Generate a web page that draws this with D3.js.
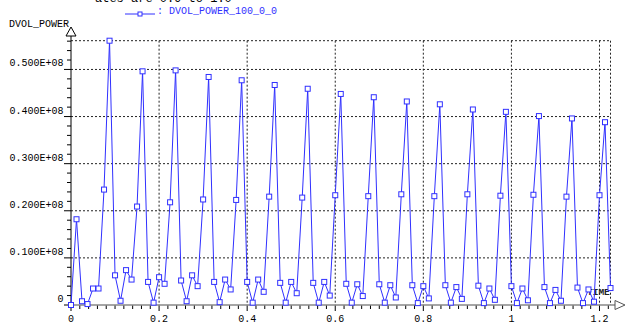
<!DOCTYPE html>
<html>
<head>
<meta charset="utf-8">
<script src="https://cdn.jsdelivr.net/npm/d3@7"></script>
<style>
  body { margin: 0; background: #fff; }
  svg { display: block; font-family: "Liberation Mono", "DejaVu Sans Mono", monospace; }
</style>
</head>
<body>
<svg id="d3-container"></svg>
<script>
const WIDTH = 626
const HEIGHT = 326
const MARGIN = {top: 40.7, right: 15.5, bottom: 21, left: 71}

const SERIES_NAME = "DVOL_POWER_100_0_0"
const Y_LABEL = "DVOL_POWER"
const X_LABEL = "TIME"

// sample times (s)
const TIME = [
  0, 0.0125, 0.025, 0.0375, 0.05, 0.0625, 0.075, 0.0875, 0.1, 0.1125,
  0.125, 0.1375, 0.15, 0.1625, 0.175, 0.1875, 0.2, 0.2125, 0.225, 0.2375,
  0.25, 0.2625, 0.275, 0.2875, 0.3, 0.3125, 0.325, 0.3375, 0.35, 0.3625,
  0.375, 0.3875, 0.4, 0.4125, 0.425, 0.4375, 0.45, 0.4625, 0.475, 0.4875,
  0.5, 0.5125, 0.525, 0.5375, 0.55, 0.5625, 0.575, 0.5875, 0.6, 0.6125,
  0.625, 0.6375, 0.65, 0.6625, 0.675, 0.6875, 0.7, 0.7125, 0.725, 0.7375,
  0.75, 0.7625, 0.775, 0.7875, 0.8, 0.8125, 0.825, 0.8375, 0.85, 0.8625,
  0.875, 0.8875, 0.9, 0.9125, 0.925, 0.9375, 0.95, 0.9625, 0.975, 0.9875,
  1, 1.0125, 1.025, 1.0375, 1.05, 1.0625, 1.075, 1.0875, 1.1, 1.1125,
  1.125, 1.1375, 1.15, 1.1625, 1.175, 1.1875, 1.2, 1.2125, 1.225
]

// DVOL_POWER values, in units of 1e6
const POWER = [
  0, 18.2, 0.8, 0.2, 3.5, 3.5, 24.5,
  56.1, 6.3, 0.9, 7.4, 5.4, 20.9,
  49.6, 4.9, 0.5, 5.9, 4.5, 21.8,
  49.8, 5.2, 0.8, 6.3, 4.0, 22.4,
  48.4, 4.9, 0.6, 5.4, 3.3, 22.3,
  47.7, 4.9, 0.5, 5.4, 2.8, 23.0,
  46.7, 4.7, 0.5, 4.9, 2.5, 22.8,
  45.9, 4.7, 0.5, 4.9, 2.0, 23.3,
  44.8, 4.5, 0.5, 4.4, 1.9, 23.1,
  44.1, 4.4, 0.5, 4.2, 1.6, 23.5,
  43.2, 4.2, 0.4, 4.0, 1.4, 23.1,
  42.6, 4.2, 0.5, 3.8, 1.3, 23.5,
  41.5, 4.1, 0.4, 3.5, 1.1, 23.2,
  41.0, 4.0, 0.4, 3.5, 1.0, 23.4,
  40.1, 3.8, 0.4, 3.2, 0.9, 23.0,
  39.6, 3.7, 0.4, 3.3, 0.7, 23.3,
  38.8, 3.6
]

const Y_TICKS = [0, 1e7, 2e7, 3e7, 4e7, 5e7]
const Y_TICK_LABELS = ["0", "0.100E+08", "0.200E+08", "0.300E+08", "0.400E+08", "0.500E+08"]
const X_TICKS = [0, 0.2, 0.4, 0.6, 0.8, 1, 1.2]
const X_TICK_LABELS = ["0", "0.2", "0.4", "0.6", "0.8", "1", "1.2"]

const BLUE = "#3030ff"

const data = TIME.map((t, i) => ({t, v: POWER[i] * 1e6}))
const xMax = d3.max(TIME)
const yMax = d3.max(data, (d) => d.v)

const svg = d3.select("#d3-container").attr("width", WIDTH).attr("height", HEIGHT)

const x = d3.scaleLinear().domain([0, xMax]).range([MARGIN.left, WIDTH - MARGIN.right])
const y = d3.scaleLinear().domain([0, yMax]).range([HEIGHT - MARGIN.bottom, MARGIN.top])

// cut-off title at the very top
svg.append("text")
  .attr("x", 95)
  .attr("y", 2)
  .attr("font-size", 12)
  .attr("fill", "#000")
  .text("ates are 0.9 to 1.0")

// grid
const grid = svg.append("g")
  .attr("stroke", "#222")
  .attr("stroke-width", 1)
  .attr("stroke-dasharray", "2,2")
grid.selectAll("line.h")
  .data(Y_TICKS.slice(1).concat([yMax]))
  .enter()
  .append("line")
  .attr("x1", x(0))
  .attr("x2", x(xMax))
  .attr("y1", (d) => y(d))
  .attr("y2", (d) => y(d))
grid.selectAll("line.v")
  .data(X_TICKS.slice(1).concat([xMax]))
  .enter()
  .append("line")
  .attr("x1", (d) => x(d))
  .attr("x2", (d) => x(d))
  .attr("y1", y(yMax))
  .attr("y2", y(0))

// minor / major ticks
const yMinor = d3.range(0, yMax + 1, 2e6)
svg.append("g")
  .attr("stroke", "#000")
  .selectAll("line")
  .data(yMinor)
  .enter()
  .append("line")
  .attr("x1", (d) => x(0) - (Math.round(d / 2e6) % 5 === 0 ? 7 : 4))
  .attr("x2", x(0))
  .attr("y1", (d) => y(d))
  .attr("y2", (d) => y(d))

const xMinor = d3.range(0, xMax + 1e-9, 0.02)
svg.append("g")
  .attr("stroke", "#000")
  .selectAll("line")
  .data(xMinor)
  .enter()
  .append("line")
  .attr("x1", (d) => x(d))
  .attr("x2", (d) => x(d))
  .attr("y1", y(0))
  .attr("y2", (d, i) => y(0) + (i % 10 === 0 ? 6 : 4))

// axes lines with arrows
svg.append("line")
  .attr("x1", x(0)).attr("x2", x(0))
  .attr("y1", y(0)).attr("y2", 36)
  .attr("stroke", "#000")
svg.append("path")
  .attr("d", `M${x(0)},27 L${x(0) - 5},36 L${x(0) + 5},36 Z`)
  .attr("fill", "#fff")
  .attr("stroke", "#000")
svg.append("line")
  .attr("x1", x(0)).attr("x2", 615)
  .attr("y1", y(0)).attr("y2", y(0))
  .attr("stroke", "#888")
  .attr("stroke-width", 1.5)
svg.append("path")
  .attr("d", `M625,${y(0)} L615,${y(0) - 4.5} L615,${y(0) + 4.5} Z`)
  .attr("fill", "#fff")
  .attr("stroke", "#555")

// tick labels
svg.append("g")
  .selectAll("text")
  .data(Y_TICKS)
  .enter()
  .append("text")
  .attr("x", 63.5)
  .attr("y", (d) => y(d) - 3)
  .attr("text-anchor", "end")
  .attr("font-size", 10)
  .text((d, i) => Y_TICK_LABELS[i])
svg.append("g")
  .selectAll("text")
  .data(X_TICKS)
  .enter()
  .append("text")
  .attr("x", (d) => x(d))
  .attr("y", 322)
  .attr("text-anchor", "middle")
  .attr("font-size", 10)
  .text((d, i) => X_TICK_LABELS[i])

// axis labels
svg.append("text")
  .attr("x", 9)
  .attr("y", 26.5)
  .attr("font-size", 10)
  .text(Y_LABEL)
svg.append("text")
  .attr("x", 587)
  .attr("y", 295)
  .attr("font-size", 9.5)
  .attr("font-weight", "bold")
  .attr("fill", "#222")
  .text(X_LABEL)

// series
const line = d3.line()
  .x((d) => x(d.t))
  .y((d) => y(d.v))
svg.append("path")
  .datum(data)
  .attr("d", line)
  .attr("fill", "none")
  .attr("stroke", BLUE)
  .attr("stroke-width", 1)
svg.append("g")
  .selectAll("rect")
  .data(data)
  .enter()
  .append("rect")
  .attr("x", (d) => x(d.t) - 2.5)
  .attr("y", (d) => y(d.v) - 2.5)
  .attr("width", 5)
  .attr("height", 5)
  .attr("fill", "#fff")
  .attr("stroke", BLUE)
  .attr("stroke-width", 1)

// legend
const legend = svg.append("g")
legend.append("line")
  .attr("x1", 125).attr("x2", 155)
  .attr("y1", 14).attr("y2", 14)
  .attr("stroke", BLUE)
legend.append("rect")
  .attr("x", 138).attr("y", 12)
  .attr("width", 4).attr("height", 4)
  .attr("fill", "#fff")
  .attr("stroke", BLUE)
legend.append("text")
  .attr("x", 157)
  .attr("y", 14)
  .attr("font-size", 10)
  .attr("fill", BLUE)
  .text(": " + SERIES_NAME)
</script>
</body>
</html>
